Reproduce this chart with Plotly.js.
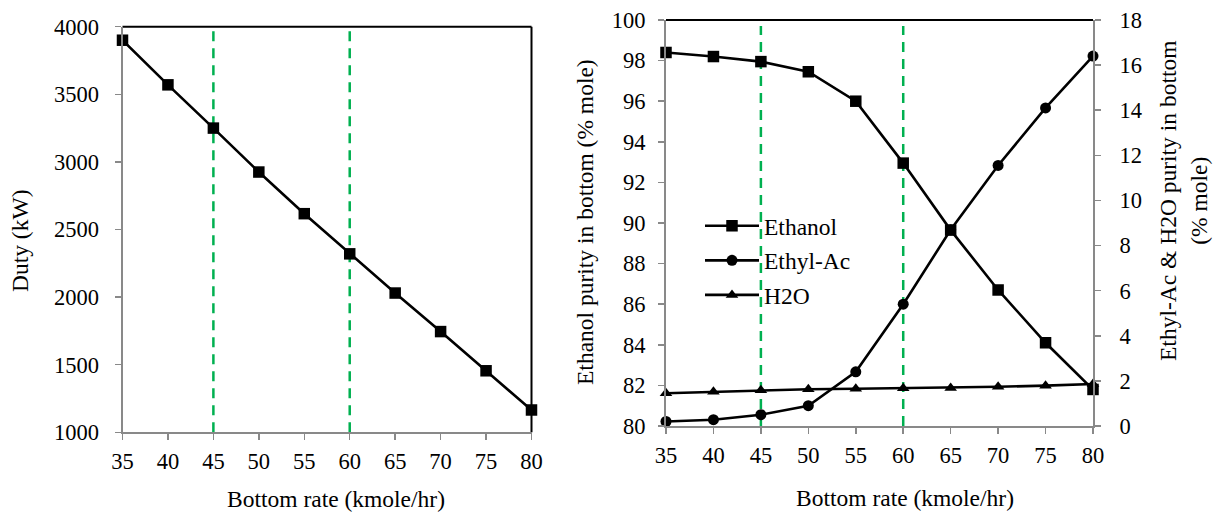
<!DOCTYPE html>
<html>
<head>
<meta charset="utf-8">
<script src="https://cdn.plot.ly/plotly-3.0.1.min.js"></script>
<style>
  html, body { margin: 0; padding: 0; background: #fff; }
  #chart { width: 1219px; height: 512px; }
</style>
</head>
<body>
<div id="chart"></div>
<script>
// ---- data ----
const bottomRate = [35, 40, 45, 50, 55, 60, 65, 70, 75, 80];
const duty = [3900, 3570, 3250, 2925, 2617, 2320, 2030, 1745, 1455, 1165];
const ethanol = [98.4, 98.2, 97.95, 97.45, 96.0, 92.95, 89.65, 86.7, 84.1, 81.8];
const ethylAc = [0.2, 0.28, 0.5, 0.9, 2.4, 5.4, 8.7, 11.55, 14.1, 16.4];
const h2o = [1.45, 1.52, 1.58, 1.63, 1.65, 1.67, 1.69, 1.74, 1.79, 1.86];
const seriesNames = ['Ethanol', 'Ethyl-Ac', 'H2O'];
const markerLines = [45, 60];
const xTicks = [35, 40, 45, 50, 55, 60, 65, 70, 75, 80];

const W = 1219, H = 512;
const px = v => v / W;
const py = v => 1 - v / H;

const FONT = 'Liberation Serif';
const GRAY = '#898989';
const GREEN = '#00B050';
const TICK_SIZE = 22.5;
const TITLE_SIZE = 23.5;

const lineStyle = {color: '#000', width: 2.6};

const traces = [
  {x: bottomRate, y: duty, xaxis: 'x', yaxis: 'y', mode: 'lines+markers', cliponaxis: false,
   line: lineStyle, marker: {symbol: 'square', size: 11.5, color: '#000'},
   showlegend: false, name: 'Duty'},
  {x: bottomRate, y: h2o, xaxis: 'x2', yaxis: 'y3', mode: 'lines+markers', cliponaxis: false,
   line: lineStyle, marker: {symbol: 'triangle-up', size: 11, color: '#000'},
   name: seriesNames[2], legendgroup: 'c', legendrank: 3},
  {x: bottomRate, y: ethylAc, xaxis: 'x2', yaxis: 'y3', mode: 'lines+markers', cliponaxis: false,
   line: lineStyle, marker: {symbol: 'circle', size: 11, color: '#000'},
   name: seriesNames[1], legendgroup: 'b', legendrank: 2},
  {x: bottomRate, y: ethanol, xaxis: 'x2', yaxis: 'y2', mode: 'lines+markers', cliponaxis: false,
   line: lineStyle, marker: {symbol: 'square', size: 11.5, color: '#000'},
   name: seriesNames[0], legendgroup: 'a', legendrank: 1}
];

const axisCommon = {
  showline: true, linecolor: GRAY, linewidth: 2,
  ticks: 'outside', ticklen: 6, tickwidth: 1.5, tickcolor: GRAY,
  showgrid: false, zeroline: false,
  tickfont: {family: FONT, size: TICK_SIZE, color: '#000'}
};

const shapes = [];
// green dashed markers
markerLines.forEach(v => {
  shapes.push({type: 'line', xref: 'x', yref: 'y domain', x0: v, x1: v, y0: 0, y1: 0.99,
    line: {color: GREEN, width: 2.5, dash: '10px,7px'}, layer: 'below'});
  shapes.push({type: 'line', xref: 'x2', yref: 'y2 domain', x0: v, x1: v, y0: 0, y1: 0.985,
    line: {color: GREEN, width: 2.5, dash: '10px,7px'}, layer: 'below'});
});
// black frame lines (top + right on left chart, top on right chart)
shapes.push({type: 'line', xref: 'x domain', yref: 'y domain', x0: 0, x1: 1, y0: 1, y1: 1,
  line: {color: '#000', width: 2}, layer: 'below'});
shapes.push({type: 'line', xref: 'x domain', yref: 'y domain', x0: 1, x1: 1, y0: 0, y1: 1,
  line: {color: '#000', width: 2}, layer: 'below'});
shapes.push({type: 'line', xref: 'x2 domain', yref: 'y2 domain', x0: 0, x1: 1, y0: 1, y1: 1,
  line: {color: '#000', width: 2}, layer: 'below'});

const titleFont = {family: FONT, size: TITLE_SIZE, color: '#000'};

const layout = {
  width: W, height: H,
  margin: {l: 0, r: 0, t: 0, b: 0},
  paper_bgcolor: '#fff', plot_bgcolor: 'rgba(0,0,0,0)',
  font: {family: FONT, size: TICK_SIZE, color: '#000'},
  showlegend: true,
  legend: {
    x: px(700), y: py(204), xanchor: 'left', yanchor: 'top',
    bgcolor: 'rgba(0,0,0,0)', borderwidth: 0,
    font: {family: FONT, size: TITLE_SIZE, color: '#000'},
    traceorder: 'grouped', tracegroupgap: 1, itemwidth: 54
  },
  xaxis: Object.assign({}, axisCommon, {
    domain: [px(122.5), px(531.5)], range: [35, 80], tickvals: xTicks,
    anchor: 'y', ticklabelstandoff: 2
  }),
  yaxis: Object.assign({}, axisCommon, {
    domain: [py(432.3), py(26.7)], range: [1000, 4000], dtick: 500, tick0: 1000,
    anchor: 'x', ticklabelstandoff: 11
  }),
  xaxis2: Object.assign({}, axisCommon, {
    domain: [px(666), px(1093)], range: [35, 80], tickvals: xTicks,
    anchor: 'y2', ticklabelstandoff: 2
  }),
  yaxis2: Object.assign({}, axisCommon, {
    domain: [py(426), py(20)], range: [80, 100], dtick: 2, tick0: 80,
    anchor: 'x2', ticklabelstandoff: 8
  }),
  yaxis3: Object.assign({}, axisCommon, {
    range: [0, 18], dtick: 2, tick0: 0,
    overlaying: 'y2', side: 'right', anchor: 'x2', ticklabelstandoff: 14
  }),
  shapes: shapes,
  annotations: [
    {text: 'Bottom rate (kmole/hr)', xref: 'paper', yref: 'paper', x: px(336), y: py(499),
     showarrow: false, font: titleFont, xanchor: 'center', yanchor: 'middle'},
    {text: 'Duty (kW)', xref: 'paper', yref: 'paper', x: px(20), y: py(241), textangle: -90,
     showarrow: false, font: titleFont, xanchor: 'center', yanchor: 'middle'},
    {text: 'Bottom rate (kmole/hr)', xref: 'paper', yref: 'paper', x: px(905), y: py(498),
     showarrow: false, font: titleFont, xanchor: 'center', yanchor: 'middle'},
    {text: 'Ethanol purity in bottom (% mole)', xref: 'paper', yref: 'paper', x: px(585), y: py(222),
     textangle: -90, showarrow: false, font: titleFont, xanchor: 'center', yanchor: 'middle'},
    {text: 'Ethyl-Ac &amp; H2O purity in bottom<br>(% mole)', xref: 'paper', yref: 'paper',
     x: px(1183), y: py(201), textangle: -90, showarrow: false, font: titleFont,
     xanchor: 'center', yanchor: 'middle'}
  ]
};

Plotly.newPlot('chart', traces, layout, {displayModeBar: false, staticPlot: true});
</script>
</body>
</html>
